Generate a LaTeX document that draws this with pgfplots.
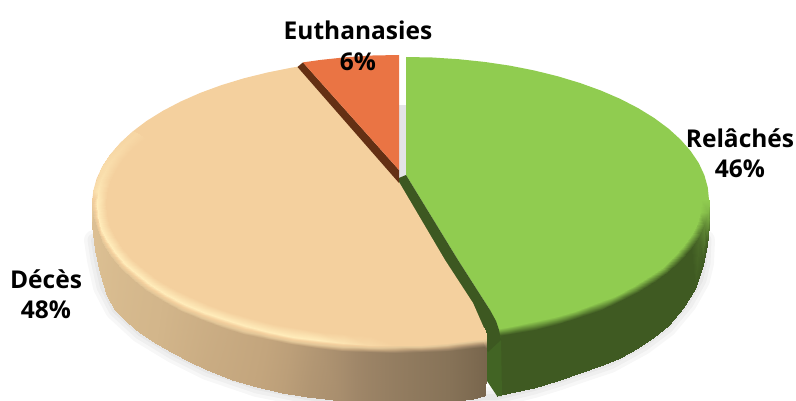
\documentclass[border=0pt]{standalone}
\usepackage{fontspec}
\setmainfont{Open Sans}
\usepackage{pgfplots}
\usepackage{pgfplotstable}
\pgfplotsset{compat=1.18}

\definecolor{greentop}{RGB}{144,204,80}
\definecolor{greenside}{RGB}{61,88,33}
\definecolor{greenstrip}{RGB}{66,100,36}
\definecolor{peachtop}{RGB}{244,208,158}
\definecolor{orangetop}{RGB}{234,116,68}
\definecolor{orangeside}{RGB}{100,48,20}

\pgfplotsset{
  colormap={piepeach}{rgb255=(112,94,70) rgb255=(135,115,88) rgb255=(160,135,105) rgb255=(195,165,125) rgb255=(226,198,152) rgb255=(244,208,158) rgb255=(255,236,186)},
  colormap={piegreen}{rgb255=(63,90,34) rgb255=(144,204,80)},
}

% lower outline of the disc, for the soft shadow
\pgfplotstableread{
x y
705 240
704 263
700 280
687 303
667 327
643 345
610 363
580 373
560 380
534 388
497 397
484 397
447 402
395 404
342 401
307 397
257 387
207 370
173 353
140 333
115 310
103 287
97 260
94 240
}\outline

% peach side and rim: bottom, edge, highlight, inner ring for each angle
\pgfplotstableread{
x y m
132.6 131.5 5.2
132.6 131.5 5.2
136.9 133.5 5.25
144.7 138 5
120.4 142.7 5.2
120.4 142.7 5.2
124.9 144.4 5.3
133.1 148.2 5
110.3 154.4 5.3
110.3 154.4 5.3
115 155.8 5.4
123.4 158.9 5
102.3 166.5 5.4
102.3 166.5 5.4
107.2 167.5 5.5
115.9 169.8 5
96.6 178.8 5.4
96.6 178.8 5.4
101.5 179.5 5.6
110.4 181.1 5
93.2 191.4 5.4
93.2 191.4 5.4
98.1 191.7 5.8
107.1 192.5 5
92 207 3.9
92 204 4.5
97 204 6
106 204 5
92.5 225 3.8
93.2 216.6 3.8
98.1 216.3 6
107.1 215.5 5
95 250 3.8
96.6 229.2 3.8
101.5 228.5 6
110.4 226.9 5
100 273 3.75
102.3 243.5 3.75
107.2 240.5 6
115.9 238.2 5
107 296 3.7
110.3 255.6 3.7
115 252.2 6
123.4 249.1 5
115 310 3.65
120.4 268.3 3.65
124.9 263.6 6
133.1 259.8 5
127 322 3.6
132.6 279.5 3.6
136.9 274.5 6
144.7 270 5
140 333 3.55
146.8 291.2 3.55
150.9 284.9 6
158.3 279.7 5
157 344 3.5
162.9 301.2 3.5
166.7 294.6 6
173.6 288.9 5
173 353 3.4
180.7 310.5 3.4
184.3 303.7 6
190.6 297.3 5
190 362 3.3
200.2 319.1 3.3
203.4 312 6
209.2 305.1 5
207 370 3.2
221.2 326.8 3.2
224.1 319.5 6
229.2 312.1 5
232 379.5 3.1
243.5 333.6 3.1
246 326.1 6
250.5 318.3 5
257 387 3
267 339.4 3
269.1 331.8 6
272.9 323.6 5
282 392.5 2.8
291.4 344.3 2.8
293.1 336.5 6
296.2 328 5
307 397 2.5
316.6 348.1 2.5
317.9 340.2 6
320.2 331.5 5
342 401 2.2
342.4 350.8 2.2
343.3 342.9 5.7
344.8 334 5
368.6 403 1.8
368.6 352.4 1.8
369 344.5 5.3
369.8 335.5 5
395 404 1.5
395 353 1.5
395 345 5
395 336 5
421 404 1.25
421.4 352.4 1.25
421 344.5 5
420.2 335.5 5
447.6 402 1
447.6 350.8 1
446.7 342.9 5
445.2 334 5
473.4 398.5 0.6
473.4 348.1 0.6
472.1 340.2 5
469.8 331.5 5
483.6 396 0.4
483.6 346.7 0.4
482.1 338.8 5
479.5 330.2 5
485 395 0.4
486.5 348 0.4
487 338 5
484 328 5
}\peachrim

% green side and rim
\pgfplotstableread{
x y m
709 205 4
709 200 6
701 200 6
708.6 225 2
707.8 212.5 5
699.9 211.8 6
706.5 245 0
704.4 224.8 2.5
696.5 223.4 6
703 265 0
698.7 237 1
690.9 234.9 6
695 289 0
690.7 248.9 0
683.2 246.2 6
683 308 0
680.6 260.4 0
673.4 257.1 6
668 326 0
668.4 271.5 0
661.5 267.5 6
654 337 0
654.2 282 0
647.7 277.4 6
638 348 0
638.1 291.9 0
632 286.8 6
620 358 0
620.3 301.1 0
614.6 295.5 6
600 366 0
600.8 309.5 0
595.6 303.4 6
580 373 0
579.8 317.1 0
575.2 310.6 6
557 381 0
557.5 323.8 0
553.5 316.9 6
534 388 0
534 329.6 0
530.7 322.4 6
510 393 0
509.6 334.4 0
506.9 326.9 6
497 396 0
497 336.4 0
494.7 328.8 6
}\greenrim

\begin{document}
\begin{tikzpicture}
\useasboundingbox (0,0) rectangle (796pt,401pt);
\begin{axis}[
  hide axis,
  scale only axis,
  width=796pt,
  height=401pt,
  xmin=0, xmax=796,
  ymin=0, ymax=401,
  y dir=reverse,
  point meta min=0,
  point meta max=6,
]
% shadow
\addplot[draw=black, opacity=0.03, line width=20pt, line join=round, line cap=round] table[x=x,y=y] {\outline};
\addplot[draw=black, opacity=0.03, line width=13pt, line join=round, line cap=round] table[x=x,y=y] {\outline};
\addplot[draw=black, opacity=0.035, line width=6pt, line join=round, line cap=round] table[x=x,y=y] {\outline};

% grey showing through the gap
\addplot[fill={rgb,255:red,228;green,228;blue,232}, draw=none] coordinates {(399,105) (406,105) (406,186) (399,186)} -- cycle;

% green slice
\addplot[fill=greentop, draw=none] coordinates {
(406,175) (406,57) (432.4,57.5) (458.6,59.2) (484.4,61.9) (509.6,65.6) (534,70.4) (557.5,76.2)
(579.8,82.9) (600.8,90.5) (620.3,98.9) (638.1,108.1) (654.2,118) (668.4,128.5) (680.6,139.6)
(690.7,151.1) (698.7,163) (704.4,175.2) (707.8,187.5) (709,200) (707.8,212.5) (704.4,224.8)
(698.7,237) (690.7,248.9) (680.6,260.4) (668.4,271.5) (654.2,282) (638.1,291.9) (620.3,301.1)
(600.8,309.5) (579.8,317.1) (557.5,323.8) (534,329.6) (509.6,334.4) (497,336.4) (490,310) (458,260)
} -- cycle;
\addplot[surf, shader=interp, colormap name=piegreen, mesh/cols=3, point meta=explicit]
  table[x=x,y=y,meta=m] {\greenrim};
% cut face of the green slice
\addplot[fill=greenstrip, draw=none] coordinates {
(480,336) (501,336) (502,396) (497,396) (487,381)
} -- cycle;
\addplot[fill=greenside, draw=none] coordinates {
(406,175) (458,260) (490,310) (496,321) (499,330) (501,340) (488,352) (470,320) (430,270) (394,180)
} -- cycle;

% peach slice
\addplot[fill=peachtop, draw=none] coordinates {
(399,182) (298.9,66.5) (291.4,67.7) (267,72.6) (243.5,78.4) (221.2,85.2) (200.2,92.9) (180.7,101.5)
(162.9,110.8) (146.8,120.8) (132.6,131.5) (120.4,142.7) (110.3,154.4) (102.3,166.5) (96.6,178.8)
(93.2,191.4) (92,204) (93.2,216.6) (96.6,229.2) (102.3,241.5) (110.3,253.6) (120.4,265.3)
(132.6,276.5) (146.8,287.2) (162.9,297.2) (180.7,306.5) (200.2,315.1) (221.2,322.8) (243.5,329.6)
(267,335.4) (291.4,340.3) (316.6,344.1) (342.4,346.8) (368.6,348.4) (395,349) (421.4,348.4)
(447.6,346.8) (473.4,344.1) (486,344) (487,338) (484,328) (473,303) (445,260)
} -- cycle;
\addplot[surf, shader=interp, colormap name=piepeach, mesh/cols=4, point meta=explicit]
  table[x=x,y=y,meta=m] {\peachrim};

% orange slice
\addplot[fill=orangeside, draw=none] coordinates {(297.5,67) (303,62.4) (399,170) (399,183)} -- cycle;
\addplot[fill=orangetop, draw=none] coordinates {
(399,170) (399,55) (372.6,55.5) (346.4,57.2) (320.6,59.9) (302.9,62.4)
} -- cycle;

\node[font=\fontsize{24.5}{25}\selectfont\bfseries, text=black] at (axis cs:358,30) {Euthanasies};
\node[font=\fontsize{24.5}{25}\selectfont\bfseries, text=black] at (axis cs:358,62) {6\%};
\node[font=\fontsize{24.5}{25}\selectfont\bfseries, text=black] at (axis cs:740,138) {Relâchés};
\node[font=\fontsize{24.5}{25}\selectfont\bfseries, text=black] at (axis cs:740,169) {46\%};
\node[font=\fontsize{24.5}{25}\selectfont\bfseries, text=black] at (axis cs:46,279) {Décès};
\node[font=\fontsize{24.5}{25}\selectfont\bfseries, text=black] at (axis cs:46,310) {48\%};
\end{axis}
\end{tikzpicture}
\end{document}
